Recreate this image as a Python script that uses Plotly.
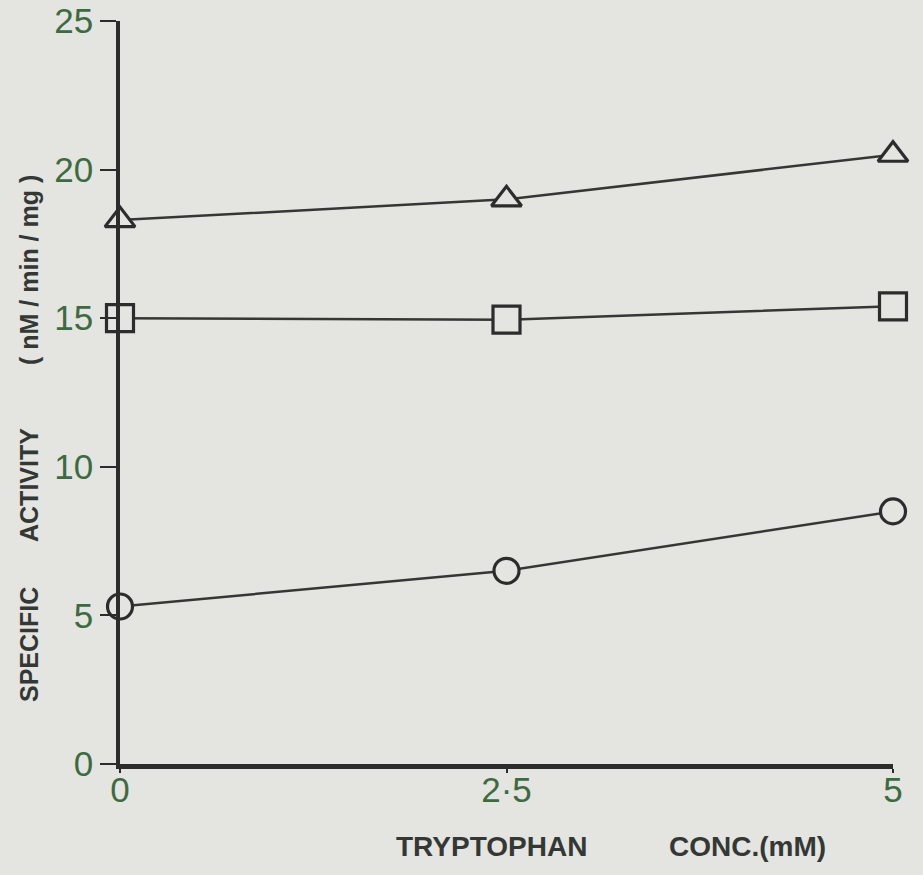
import plotly.graph_objects as go

# Tryptophan concentration (mM) and specific activity (nM/min/mg) per series
conc = [0, 2.5, 5]
triangle_series = [18.3, 19.0, 20.5]
square_series = [15.0, 14.95, 15.4]
circle_series = [5.3, 6.5, 8.5]

x_tick_vals = [0, 2.5, 5]
x_tick_text = ["0", "2·5", "5"]
y_tick_vals = [0, 5, 10, 15, 20, 25]
y_tick_text = ["0", "5", "10", "15", "20", "25"]

x_title_parts = ["TRYPTOPHAN", "CONC.(mM)"]
y_title_parts = ["SPECIFIC", "ACTIVITY", "( nM / min / mg )"]

BG = "#e4e4e1"
INK = "#2c2c2c"
LINE_INK = "#363636"
TICK_INK = "#3d6b40"
TITLE_INK = "#343834"

W, H = 923, 875
L, R, T, B = 120, 30, 21, 111
PW, PH = W - L - R, H - T - B


def px_x(px):
    return (px - L) / PW


def px_y(py):
    return (H - B - py) / PH


fig = go.Figure()

series = [
    (triangle_series, "triangle-up", 26),
    (square_series, "square", 27),
    (circle_series, "circle", 25),
]
for values, symbol, size in series:
    fig.add_trace(go.Scatter(
        x=conc, y=values, mode="lines+markers",
        line=dict(color=LINE_INK, width=2.5),
        marker=dict(symbol=symbol, size=size, color=BG,
                    line=dict(color=INK, width=3.2)),
        cliponaxis=False, showlegend=False, hoverinfo="skip",
    ))

tick_font = dict(family="Liberation Sans, Arial, sans-serif", size=35, color=TICK_INK)

fig.update_xaxes(
    range=[0, 5], tickvals=x_tick_vals, ticktext=x_tick_text,
    showline=True, linecolor=INK, linewidth=4.5, mirror=False,
    ticks="outside", ticklen=4, tickwidth=2, tickcolor=INK,
    tickfont=tick_font, showgrid=False, zeroline=False,
    automargin=False, ticklabelstandoff=-13,
)
fig.update_yaxes(
    range=[0, 25], tickvals=y_tick_vals, ticktext=y_tick_text,
    showline=True, linecolor=INK, linewidth=3.5, mirror=False,
    ticks="outside", ticklen=16, tickwidth=2, tickcolor=INK,
    tickfont=tick_font, showgrid=False, zeroline=False,
    automargin=False,
)

x_title_font = dict(family="Liberation Sans, Arial, sans-serif", size=28,
                    color=TITLE_INK, weight="bold")
y_title_font = dict(family="Liberation Sans, Arial, sans-serif", size=25,
                    color=TITLE_INK, weight="bold")

annotations = []
for text, cx in zip(x_title_parts, [491, 747]):
    annotations.append(dict(
        text=text, xref="paper", yref="paper", x=px_x(cx), y=px_y(846),
        xanchor="center", yanchor="middle", showarrow=False, font=x_title_font,
    ))
for text, cy in zip(y_title_parts, [645, 485, 270]):
    annotations.append(dict(
        text=text, xref="paper", yref="paper", x=px_x(29), y=px_y(cy),
        xanchor="center", yanchor="middle", showarrow=False, textangle=-90,
        font=y_title_font,
    ))

fig.update_layout(
    width=W, height=H,
    margin=dict(l=L, r=R, t=T, b=B, pad=0, autoexpand=False),
    paper_bgcolor=BG, plot_bgcolor=BG,
    annotations=annotations,
)

fig.write_html("out.html")
